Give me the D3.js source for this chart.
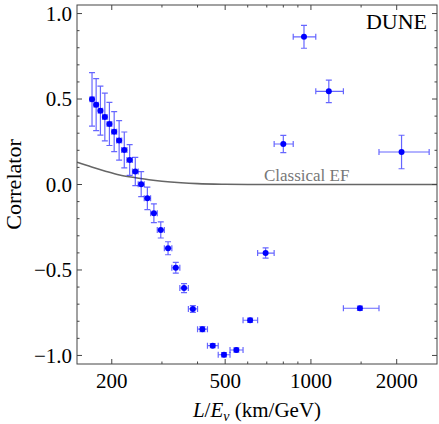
<!DOCTYPE html>
<html>
<head>
<meta charset="utf-8">
<script src="https://cdn.jsdelivr.net/npm/d3@7"></script>
<style>
  body { margin: 0; background: #fff }
</style>
</head>
<body>
<div id="chart"></div>
<script>
// DUNE baseline (km) and energy bin centres (GeV), bins are +-0.125 GeV
const baseline = 1300
const binHalf = 0.125
const energy = [7.625, 7.375, 7.125, 6.875, 6.625, 6.375, 6.125, 5.875, 5.625, 5.375,
  5.125, 4.875, 4.625, 4.375, 4.125, 3.875, 3.625, 3.375, 3.125, 2.875,
  2.625, 2.375, 2.125, 1.875, 1.625, 1.375, 1.125, 0.875, 0.625]
const correlator = [0.498, 0.467, 0.432, 0.395, 0.354, 0.309, 0.258, 0.202, 0.143, 0.076,
  0.002, -0.081, -0.168, -0.266, -0.373, -0.487, -0.606, -0.728, -0.846, -0.943,
  -0.996, -0.968, -0.794, -0.401, 0.237, 0.864, 0.545, -0.724, 0.190]
const correlatorErr = [0.156, 0.152, 0.143, 0.140, 0.126, 0.117, 0.116, 0.105, 0.090, 0.083,
  0.073, 0.066, 0.055, 0.047, 0.038, 0.032, 0.026, 0.020, 0.015, 0.012,
  0.012, 0.012, 0.012, 0.030, 0.050, 0.067, 0.066, 0.012, 0.098]

// classical expectation curve
const classicalX = [151, 170, 190, 213, 240, 270, 300, 350, 400, 500, 600, 800, 1200, 2000, 2770]
const classicalY = [0.130, 0.102, 0.078, 0.056, 0.041, 0.028, 0.019, 0.010, 0.005, 0.0015, 0.0004, 0, 0, 0, 0]

const xMajor = [200, 500, 1000, 2000]
const xMinor = [300, 400, 600, 700, 800, 900, 1500]
const yMajor = [-1, -0.5, 0, 0.5, 1]

const width = 439
const height = 424
const margin = { top: 5, right: 2, bottom: 60, left: 77 }
const serif = "'Liberation Serif', 'Times New Roman', Times, serif"

const points = energy.map((e, i) => ({
  x: baseline / e,
  xLo: baseline / (e + binHalf),
  xHi: baseline / (e - binHalf),
  y: correlator[i],
  err: correlatorErr[i]
}))

const svg = d3.select('#chart').append('svg')
  .attr('width', width)
  .attr('height', height)
  .attr('font-family', serif)
  .style('font-family', serif)

const x = d3.scaleLog()
  .domain([151, 2770])
  .range([margin.left, width - margin.right])
const y = d3.scaleLinear()
  .domain([-1.05, 1.05])
  .range([height - margin.bottom, margin.top])

const x0 = x.range()[0]
const x1 = x.range()[1]
const y0 = y.range()[0]
const y1 = y.range()[1]

// clip for plot contents
svg.append('clipPath').attr('id', 'clip')
  .append('rect')
  .attr('x', x0).attr('y', y1)
  .attr('width', x1 - x0).attr('height', y0 - y1)

// classical EF curve
const line = d3.line()
  .x((d, i) => x(classicalX[i]))
  .y(d => y(d))
  .curve(d3.curveMonotoneX)
svg.append('path')
  .attr('clip-path', 'url(#clip)')
  .attr('d', line(classicalY))
  .attr('fill', 'none')
  .attr('stroke', '#666')
  .attr('stroke-width', 1.6)

svg.append('text')
  .attr('x', x(684))
  .attr('y', y(0.02))
  .attr('font-size', 17)
  .attr('fill', '#777')
  .text('Classical EF')

// error bars
const cap = 3
const gErr = svg.append('g')
  .attr('stroke', 'rgba(0, 0, 255, 0.6)')
  .attr('stroke-width', 1.2)
  .attr('fill', 'none')
gErr.selectAll('path')
  .data(points)
  .join('path')
  .attr('d', d => {
    const cx = x(d.x)
    const cy = y(d.y)
    const ya = y(d.y + d.err)
    const yb = y(d.y - d.err)
    const xa = x(d.xLo)
    const xb = x(d.xHi)
    return `M${cx},${ya}V${yb}` +
      `M${cx - cap},${ya}H${cx + cap}M${cx - cap},${yb}H${cx + cap}` +
      `M${xa},${cy}H${xb}` +
      `M${xa},${cy - cap}V${cy + cap}M${xb},${cy - cap}V${cy + cap}`
  })

svg.append('g')
  .selectAll('circle')
  .data(points)
  .join('circle')
  .attr('cx', d => x(d.x))
  .attr('cy', d => y(d.y))
  .attr('r', 3)
  .attr('fill', '#0000ff')

// frame with inward ticks
const frame = svg.append('g')
  .attr('stroke', '#444')
  .attr('stroke-width', 1)
  .attr('fill', 'none')
frame.append('rect')
  .attr('x', x0).attr('y', y1)
  .attr('width', x1 - x0).attr('height', y0 - y1)

const tickPath = (v, len, horizontal) => horizontal
  ? `M${x(v)},${y0}v${-len}M${x(v)},${y1}v${len}`
  : `M${x0},${y(v)}h${len}M${x1},${y(v)}h${-len}`
frame.selectAll('.xmaj').data(xMajor).join('path').attr('d', d => tickPath(d, 5, true))
frame.selectAll('.xmin').data(xMinor).join('path').attr('d', d => tickPath(d, 2.5, true))
const yMinor = d3.range(-10, 11).map(d => d / 10).filter(d => !yMajor.some(m => Math.abs(m - d) < 1e-9))
frame.selectAll('.ymaj').data(yMajor).join('path').attr('d', d => tickPath(d, 5, false))
frame.selectAll('.ymin').data(yMinor).join('path').attr('d', d => tickPath(d, 2.5, false))

// tick labels
svg.append('g')
  .selectAll('text')
  .data(xMajor)
  .join('text')
  .attr('x', d => x(d))
  .attr('y', 388)
  .attr('text-anchor', 'middle')
  .attr('font-size', 21)
  .text(d => d)

const fmt = d3.format('.1f')
svg.append('g')
  .selectAll('text')
  .data(yMajor)
  .join('text')
  .attr('x', 72)
  .attr('y', d => y(d))
  .attr('dy', '0.35em')
  .attr('text-anchor', 'end')
  .attr('font-size', 21)
  .text(d => fmt(d))

// axis titles
const xt = svg.append('text')
  .attr('x', (x0 + x1) / 2)
  .attr('y', 417)
  .attr('text-anchor', 'middle')
  .attr('font-size', 21)
xt.append('tspan').attr('font-style', 'italic').text('L')
xt.append('tspan').text('/')
xt.append('tspan').attr('font-style', 'italic').text('E')
xt.append('tspan').attr('font-style', 'italic').attr('font-size', 14).attr('dy', 4).text('ν')
xt.append('tspan').attr('dy', -4).text(' (km/GeV)')

svg.append('text')
  .attr('transform', `translate(21,${(y0 + y1) / 2}) rotate(-90)`)
  .attr('text-anchor', 'middle')
  .attr('font-size', 22)
  .text('Correlator')

svg.append('text')
  .attr('x', 427)
  .attr('y', 29)
  .attr('text-anchor', 'end')
  .attr('font-size', 22)
  .text('DUNE')
</script>
</body>
</html>
